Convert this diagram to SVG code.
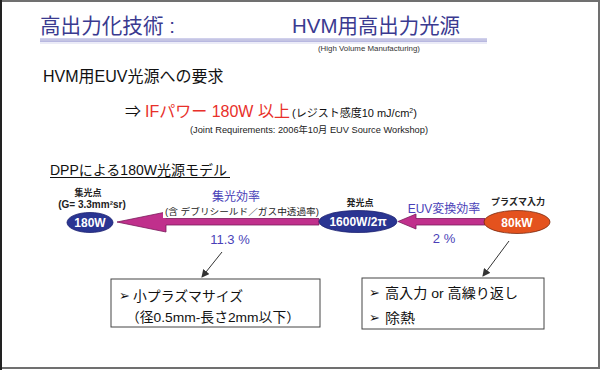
<svg xmlns="http://www.w3.org/2000/svg" width="601" height="370" viewBox="0 0 601 370">
<style>
text{font-family:"Liberation Sans","Noto Sans CJK JP",sans-serif}
.title{font-size:21px;fill:#3a3a90}
.lbl{font-size:9px;font-weight:bold;fill:#222}
.node{font-size:12px;font-weight:bold;fill:#fff}
.eff{font-size:12px;fill:#4a3fb8}
.pct{font-size:13px;fill:#4a3fb8}
.arrowbar{fill:#c0308c;stroke:#7a1a5a;stroke-width:0.8}
.box{fill:#fff;stroke:#444;stroke-width:1}
.boxtxt{font-size:13.5px;fill:#111}
.bul{font-size:13px;fill:#111;font-family:"DejaVu Sans",sans-serif}
</style>
<defs>
<marker id="ah" markerWidth="8" markerHeight="8" refX="7" refY="4" orient="auto" markerUnits="userSpaceOnUse">
<path d="M0,0 L8,4 L0,8 Z" fill="#333"/>
</marker>
</defs>
<rect x="0" y="0" width="601" height="370" fill="#fff"/>
<rect x="1" y="1" width="598" height="367" fill="none" stroke="#707070" stroke-width="2"/>
<line x1="1" y1="0" x2="1" y2="370" stroke="#222" stroke-width="2"/>

<g id="header">
<text class="title" x="40" y="33" textLength="135" lengthAdjust="spacingAndGlyphs">高出力化技術 :</text>
<text class="title" x="292" y="33" textLength="168" lengthAdjust="spacingAndGlyphs">HVM用高出力光源</text>
<line x1="40" y1="38.5" x2="487" y2="38.5" stroke="#d0d0ec" stroke-width="1"/>
<line x1="40" y1="40" x2="487" y2="40" stroke="#8a8ac8" stroke-width="1"/>
<line x1="40" y1="41.5" x2="487" y2="41.5" stroke="#b8b8e0" stroke-width="1"/>
<line x1="40" y1="43" x2="487" y2="43" stroke="#d8d8f0" stroke-width="1"/>
<text x="318" y="51" textLength="102" lengthAdjust="spacingAndGlyphs" style="font-size:8px;fill:#333">(High Volume Manufacturing)</text>
</g>

<g id="requirements">
<text x="43" y="82" style="font-size:16px;fill:#111">HVM用EUV光源への要求</text>
<text x="125" y="117" style="font-size:16px;fill:#111">⇒</text>
<text x="145" y="117" style="font-size:16px;fill:#e8302a">IFパワー  180W 以上</text>
<text x="292" y="117" style="font-size:11px;fill:#111">(レジスト感度10 mJ/cm<tspan dy="-4" style="font-size:7px">2</tspan><tspan dy="4">)</tspan></text>
<text x="190" y="133" textLength="238" lengthAdjust="spacingAndGlyphs" style="font-size:9px;fill:#222">(Joint Requirements: 2006年10月  EUV Source Workshop)</text>
</g>

<g id="model-title">
<text x="50" y="175" style="font-size:14px;fill:#111">DPPによる180W光源モデル</text>
<line x1="50" y1="177.5" x2="230" y2="177.5" stroke="#111" stroke-width="1"/>
</g>

<g id="connectors">
<path class="arrowbar" d="M319,218.5 L166,218.5 L166,212 L117,222 L166,232 L166,225 L319,225 Z"/>
<path class="arrowbar" d="M485,218.5 L416,218.5 L416,214 L398,221.5 L416,229 L416,225 L485,225 Z"/>
<line x1="222" y1="252" x2="202" y2="277" stroke="#333" stroke-width="1" marker-end="url(#ah)"/>
<line x1="509" y1="241" x2="483" y2="276" stroke="#333" stroke-width="1" marker-end="url(#ah)"/>
</g>

<g id="node-180W">
<text class="lbl" x="88" y="196" text-anchor="middle">集光点</text>
<text class="lbl" x="92" y="208" text-anchor="middle" style="font-size:10px">(G= 3.3mm²sr)</text>
<ellipse cx="90" cy="222.5" rx="23" ry="10" fill="#2a3592" stroke="#1a2070" stroke-width="0.8"/>
<text class="node" x="90" y="227" text-anchor="middle">180W</text>
</g>

<g id="label-collect">
<text class="eff" x="236" y="201" text-anchor="middle">集光効率</text>
<rect x="163" y="206" width="156" height="12" fill="#fff"/>
<text x="242" y="215" text-anchor="middle" textLength="154" lengthAdjust="spacingAndGlyphs" style="font-size:9px;fill:#222">(含 デブリシールド／ガス中透過率)</text>
<text class="pct" x="230" y="244" text-anchor="middle">11.3 %</text>
</g>

<g id="node-1600W">
<text class="lbl" x="360" y="206" text-anchor="middle">発光点</text>
<ellipse cx="358" cy="221.5" rx="39" ry="11" fill="#2a3592" stroke="#1a2070" stroke-width="0.8"/>
<text class="node" x="358" y="226" text-anchor="middle">1600W/2π</text>
</g>

<g id="label-conv">
<text class="eff" x="444" y="213" text-anchor="middle">EUV変換効率</text>
<text class="pct" x="444" y="243" text-anchor="middle">2 %</text>
</g>

<g id="node-80kW">
<text class="lbl" x="518" y="205" text-anchor="middle">プラズマ入力</text>
<ellipse cx="517" cy="222" rx="33" ry="11.5" fill="#e4521e" stroke="#7a2a10" stroke-width="0.8"/>
<text class="node" x="517" y="226.5" text-anchor="middle">80kW</text>
</g>

<g id="box-small">
<rect class="box" x="111" y="279" width="209" height="48"/>
<text class="bul" x="119" y="300">➢</text>
<text class="boxtxt" x="133" y="301" textLength="110" lengthAdjust="spacingAndGlyphs">小プラズマサイズ</text>
<text class="boxtxt" x="126" y="322" textLength="174" lengthAdjust="spacingAndGlyphs">（径0.5mm-長さ2mm以下）</text>
</g>

<g id="box-high">
<rect class="box" x="362" y="278" width="182" height="51"/>
<text class="bul" x="369" y="297">➢</text>
<text class="boxtxt" x="385" y="298" textLength="133" lengthAdjust="spacingAndGlyphs">高入力 or 高繰り返し</text>
<text class="bul" x="369" y="322">➢</text>
<text class="boxtxt" x="385" y="323" textLength="30" lengthAdjust="spacingAndGlyphs">除熱</text>
</g>
</svg>
